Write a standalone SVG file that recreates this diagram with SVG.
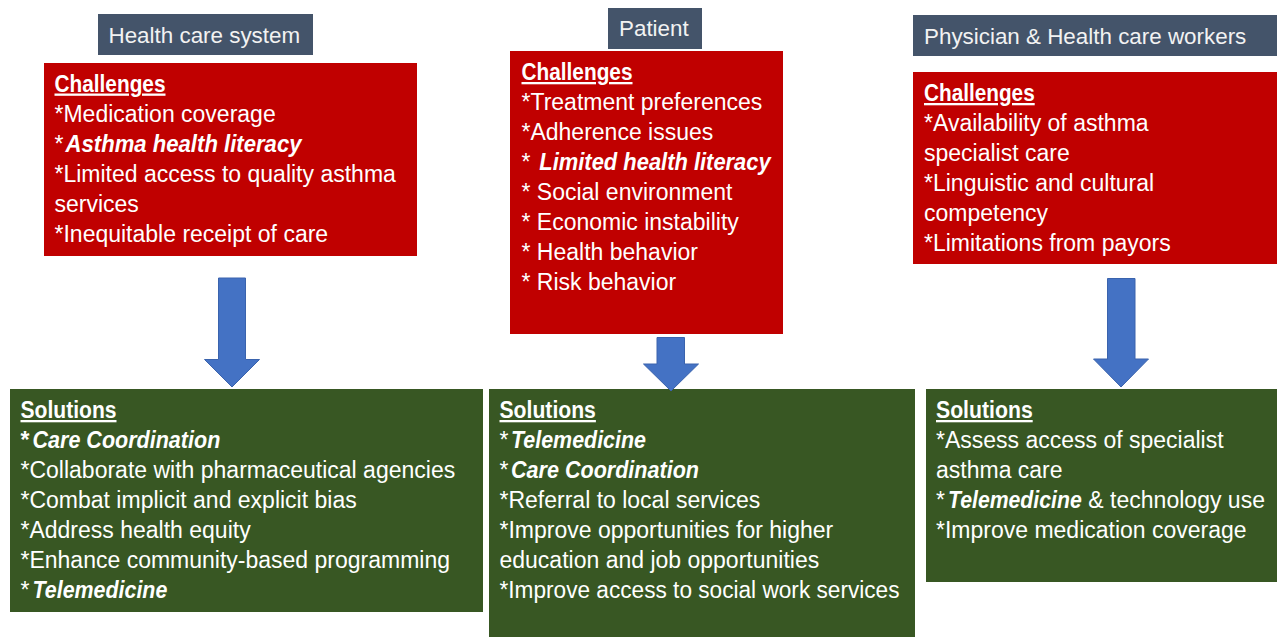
<svg xmlns="http://www.w3.org/2000/svg" width="1277" height="637" viewBox="0 0 1277 637">
  <style>
    .hdr { fill: #44546A; }
    .chal { fill: #C00000; }
    .sol { fill: #385723; }
    text { font-family: "Liberation Sans", Arial, sans-serif; fill: #FFFFFF; font-size: 23px; }
    .ht { font-size: 22.4px; fill: #F2F2F2; }
    .ttl { font-weight: bold; text-decoration: underline; }
    .bi { font-weight: bold; font-style: italic; }
    .b { font-weight: bold; }
    .arrow { fill: #4472C4; stroke: #3A63AD; stroke-width: 1; }
  </style>

  <!-- Column 1: health care system -->
  <g id="header-system">
    <rect class="hdr" x="98" y="14" width="215" height="41"/>
    <text class="ht" x="108.5" y="43">Health care system</text>
  </g>
  <g id="challenges-system">
    <rect class="chal" x="44" y="63" width="373" height="193"/>
    <text class="ttl" x="54.5" y="91.5" textLength="111" lengthAdjust="spacingAndGlyphs">Challenges</text>
    <text x="54.5" y="121.5">*Medication coverage</text>
    <text x="54.5" y="151.5">*</text>
    <text class="bi" x="65.5" y="151.5" textLength="236" lengthAdjust="spacingAndGlyphs">Asthma health literacy</text>
    <text x="54.5" y="181.5">*Limited access to quality asthma</text>
    <text x="54.5" y="211.5">services</text>
    <text x="54.5" y="241.5">*Inequitable receipt of care</text>
  </g>
  <g id="solutions-system">
    <rect class="sol" x="10" y="389" width="473" height="223"/>
    <text class="ttl" x="20.5" y="418" textLength="96" lengthAdjust="spacingAndGlyphs">Solutions</text>
    <text class="b" x="20.5" y="448">*</text>
    <text class="bi" x="32.5" y="448" textLength="187.8" lengthAdjust="spacingAndGlyphs">Care Coordination</text>
    <text x="20.5" y="478">*Collaborate with pharmaceutical agencies</text>
    <text x="20.5" y="508">*Combat implicit and explicit bias</text>
    <text x="20.5" y="538">*Address health equity</text>
    <text x="20.5" y="568">*Enhance community-based programming</text>
    <text x="20.5" y="598">*</text>
    <text class="bi" x="32.5" y="598" textLength="134.8" lengthAdjust="spacingAndGlyphs">Telemedicine</text>
  </g>

  <!-- Column 2: patient -->
  <g id="header-patient">
    <rect class="hdr" x="608" y="8" width="94" height="41"/>
    <text class="ht" x="619" y="36">Patient</text>
  </g>
  <g id="challenges-patient">
    <rect class="chal" x="510" y="51" width="273" height="283"/>
    <text class="ttl" x="521.5" y="80" textLength="111" lengthAdjust="spacingAndGlyphs">Challenges</text>
    <text x="521.5" y="110">*Treatment preferences</text>
    <text x="521.5" y="140">*Adherence issues</text>
    <text x="521.5" y="170">*</text>
    <text class="bi" x="539.3" y="170" textLength="231.4" lengthAdjust="spacingAndGlyphs">Limited health literacy</text>
    <text x="521.5" y="200">* Social environment</text>
    <text x="521.5" y="230">* Economic instability</text>
    <text x="521.5" y="260">* Health behavior</text>
    <text x="521.5" y="290">* Risk behavior</text>
  </g>
  <g id="solutions-patient">
    <rect class="sol" x="489" y="389" width="426" height="248"/>
    <text class="ttl" x="499.5" y="418" textLength="96.4" lengthAdjust="spacingAndGlyphs">Solutions</text>
    <text x="499.5" y="447.5">*</text>
    <text class="bi" x="511" y="447.5" textLength="135" lengthAdjust="spacingAndGlyphs">Telemedicine</text>
    <text x="499.5" y="477.5">*</text>
    <text class="bi" x="511" y="477.5" textLength="188" lengthAdjust="spacingAndGlyphs">Care Coordination</text>
    <text x="499.5" y="507.5">*Referral to local services</text>
    <text x="499.5" y="537.5">*Improve opportunities for higher</text>
    <text x="499.5" y="567.5">education and job opportunities</text>
    <text x="499.5" y="597.5" textLength="400" lengthAdjust="spacingAndGlyphs">*Improve access to social work services</text>
  </g>

  <!-- Column 3: physicians and health care workers -->
  <g id="header-workers">
    <rect class="hdr" x="913" y="15" width="364" height="41"/>
    <text class="ht" x="924" y="43.5">Physician &amp; Health care workers</text>
  </g>
  <g id="challenges-workers">
    <rect class="chal" x="913" y="72" width="364" height="192"/>
    <text class="ttl" x="924" y="101" textLength="110.7" lengthAdjust="spacingAndGlyphs">Challenges</text>
    <text x="924" y="131">*Availability of asthma</text>
    <text x="924" y="161">specialist care</text>
    <text x="924" y="191">*Linguistic and cultural</text>
    <text x="924" y="221">competency</text>
    <text x="924" y="251">*Limitations from payors</text>
  </g>
  <g id="solutions-workers">
    <rect class="sol" x="926" y="389" width="351" height="193"/>
    <text class="ttl" x="936" y="418" textLength="96.7" lengthAdjust="spacingAndGlyphs">Solutions</text>
    <text x="936" y="448">*Assess access of specialist</text>
    <text x="936" y="478">asthma care</text>
    <text x="936" y="508">*</text>
    <text class="bi" x="948" y="508" textLength="133.7" lengthAdjust="spacingAndGlyphs">Telemedicine</text>
    <text x="1088.3" y="508" textLength="176.7" lengthAdjust="spacingAndGlyphs">&amp; technology use</text>
    <text x="936" y="538">*Improve medication coverage</text>
  </g>

  <!-- Block arrows from challenges down to solutions -->
  <g id="connectors">
    <polygon class="arrow" points="218.5,278 245.5,278 245.5,359.5 259.5,359.5 232,387 204.5,359.5 218.5,359.5"/>
    <polygon class="arrow" points="657,337.5 684.5,337.5 684.5,364 698.5,364 671,391 643.5,364 657,364"/>
    <polygon class="arrow" points="1107.5,278.5 1135,278.5 1135,359 1148.5,359 1121,387 1093.5,359 1107.5,359"/>
  </g>
</svg>
